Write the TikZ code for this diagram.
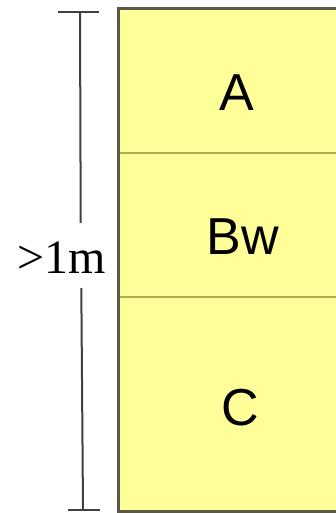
\documentclass[tikz,border=0pt]{standalone}
\usepackage{fontspec}
\setmainfont{Liberation Serif}
\newfontfamily\arialf{Liberation Sans}
\definecolor{soilfill}{HTML}{FFFF99}
\definecolor{soilborder}{HTML}{5A5A44}
\definecolor{soildiv}{HTML}{ADAD58}
\definecolor{dimcol}{HTML}{404040}
\begin{document}
\begin{tikzpicture}[x=1pt,y=-1pt,
  layerlabel/.style={font=\arialf\fontsize{52}{56}\selectfont, inner sep=0pt},
  dimlabel/.style={font=\fontsize{48}{52}\selectfont, inner sep=0pt},
  border/.style={draw=soilborder, line width=3pt},
  divider/.style={draw=soildiv, line width=2.2pt},
  dimline/.style={draw=dimcol, line width=2pt}]
\useasboundingbox[fill=white] (0,0) rectangle (335,513);
% soil profile
\fill[soilfill] (118,9) rectangle (336,511);
\coordinate (tl) at (118,9);
\coordinate (tr) at (336,9);
\coordinate (bl) at (118,511);
\coordinate (br) at (336,511);
\coordinate (d1l) at (119,153);
\coordinate (d1r) at (336,153);
\coordinate (d2l) at (119,297);
\coordinate (d2r) at (336,297);
\draw[divider] (d1l) -- (d1r);
\draw[divider] (d2l) -- (d2r);
\draw[border] (tr) -- (tl) -- (bl) -- (br);
\node[layerlabel] (A) at (237,93) {A};
\node[layerlabel] (Bw) at (243,237) {Bw};
\node[layerlabel] (C) at (240,408) {C};
% dimension
\coordinate (ttl) at (58,12);
\coordinate (ttr) at (99,12);
\coordinate (vt) at (80,12);
\coordinate (vg1) at (80.7,223);
\coordinate (vg2) at (81.3,288);
\coordinate (vb) at (83,510);
\coordinate (btl) at (68,510);
\coordinate (btr) at (100,510);
\draw[dimline] (ttl) -- (ttr);
\draw[dimline] (btl) -- (btr);
\draw[dimline] (vt) -- (vg1);
\draw[dimline] (vg2) -- (vb);
\node[dimlabel] (len) at (62,258) {>1m};
\end{tikzpicture}
\end{document}
